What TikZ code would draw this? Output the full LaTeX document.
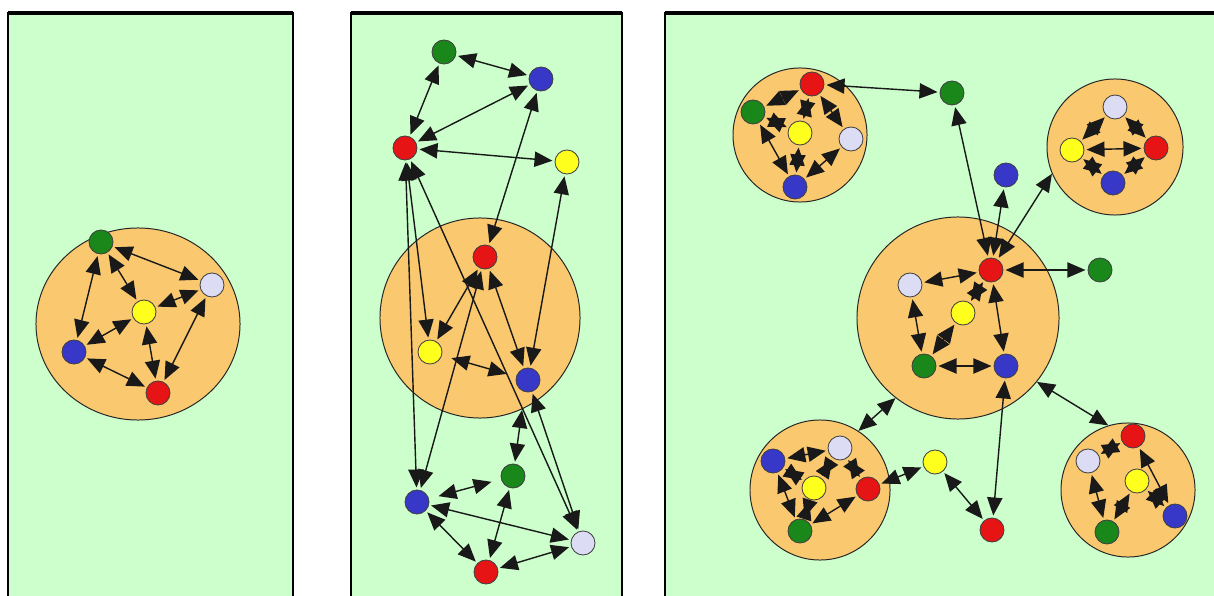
\documentclass[tikz,border=0pt]{standalone}
\usetikzlibrary{arrows.meta,shapes.geometric}
\definecolor{panelbg}{RGB}{204,255,204}
\definecolor{clufill}{RGB}{250,200,110}
\definecolor{cred}{RGB}{230,20,20}
\definecolor{cgreen}{RGB}{25,135,25}
\definecolor{cblue}{RGB}{55,55,200}
\definecolor{cyellow}{RGB}{255,255,30}
\definecolor{clav}{RGB}{220,220,245}
\begin{document}
\begin{tikzpicture}[x=0.025cm,y=-0.025cm,
  nd/.style={circle,draw=black!75,line width=0.6pt,minimum size=0.6cm,inner sep=0pt},
  nr/.style={nd,fill=cred}, ng/.style={nd,fill=cgreen}, nb/.style={nd,fill=cblue},
  ny/.style={nd,fill=cyellow}, nl/.style={nd,fill=clav},
  clu/.style={circle,draw=black!85,line width=0.7pt,fill=clufill,inner sep=0pt},
  dbl/.style={{Triangle[length=0.45cm,width=0.38cm]}-{Triangle[length=0.45cm,width=0.38cm]},line width=1pt,draw=black!90,shorten >=1.5pt,shorten <=1.5pt},
  short/.style={dbl,shorten >=7pt,shorten <=7pt},
  panel/.style={fill=panelbg,draw=black,line width=1.4pt},
  topedge/.style={line width=2.4pt}]
\useasboundingbox (0,0) rectangle (1214,596);
\clip (0,0) rectangle (1214,596);
\fill[white] (0,0) rectangle (1214,596);
% panels
\draw[panel] (8,13) rectangle (293,620);
\draw[topedge] (8,13) -- (293,13);
\draw[panel] (351,13) rectangle (622,620);
\draw[topedge] (351,13) -- (622,13);
\draw[panel] (665,13) rectangle (1240,620);
\draw[topedge] (665,13) -- (1240,13);

% ---------- panel 1 ----------
\node[clu,ellipse,minimum width=5.1cm,minimum height=4.8cm] (P1) at (138,324) {};
\node[ng] (a1) at (101,242) {};
\node[nl] (a2) at (212,285) {};
\node[ny] (a3) at (144,312) {};
\node[nb] (a4) at (74,352) {};
\node[nr] (a5) at (158,393) {};
\draw[dbl] (a1) -- (a2);
\draw[dbl] (a1) -- (a3);
\draw[dbl] (a1) -- (a4);
\draw[dbl] (a3) -- (a2);
\draw[dbl] (a3) -- (a4);
\draw[dbl] (a3) -- (a5);
\draw[dbl] (a4) -- (a5);
\draw[dbl] (a2) -- (a5);

% ---------- panel 2 ----------
\node[clu,minimum size=5cm] (P2) at (480,318) {};
\node[ng] (g1) at (444,52) {};
\node[nb] (b1) at (541,79) {};
\node[nr] (r1) at (405,148) {};
\node[ny] (y1) at (567,162) {};
\node[nr] (r2) at (485,257) {};
\node[ny] (y2) at (430,352) {};
\node[nb] (b2) at (528,380) {};
\node[ng] (g3) at (513,476) {};
\node[nb] (b3) at (417,502) {};
\node[nl] (l3) at (583,543) {};
\node[nr] (r3) at (486,572) {};
\coordinate (j1) at (522,410);
\draw[dbl] (g1) -- (r1);
\draw[dbl] (g1) -- (b1);
\draw[dbl] (b1) -- (r1);
\draw[dbl] (r1) -- (y1);
\draw[dbl] (b1) -- (r2);
\draw[dbl] (y1) -- (b2);
\draw[dbl] (r1) -- (b3);
\draw[dbl] (r1) -- (y2);
\draw[dbl] (r1) -- (l3);
\draw[dbl] (r2) -- (y2);
\draw[dbl] (r2) -- (b3);
\draw[dbl] (r2) -- (b2);
\draw[dbl] (b2) -- (l3);
\draw[short] (y2) -- (b2);
\draw[short] (b3) -- (g3);
\draw[dbl] (b3) -- (l3);
\draw[dbl] (b3) -- (r3);
\draw[dbl] (g3) -- (r3);
\draw[dbl] (l3) -- (r3);
\draw[dbl,shorten <=0pt] (j1) -- (g3);

% ---------- panel 3 ----------
\node[clu,minimum size=3.35cm] (TL) at (800,135) {};
\node[clu,minimum size=3.4cm] (TR) at (1115,147) {};
\node[clu,minimum size=5.05cm] (C) at (958,318) {};
\node[clu,minimum size=3.5cm] (BL) at (820,490) {};
\node[clu,minimum size=3.35cm] (BR) at (1128,490) {};
% top-left cluster
\node[nr] (tlr) at (812,84) {};
\node[ng] (tlg) at (753,112) {};
\node[ny] (tly) at (800,133) {};
\node[nl] (tll) at (851,139) {};
\node[nb] (tlb) at (795,187) {};
% free nodes
\node[ng] (fg) at (952,93) {};
\node[nb] (fb) at (1006,175) {};
\node[ng] (fg2) at (1100,270) {};
\node[ny] (fy) at (935,462) {};
\node[nr] (fr) at (992,530) {};
% top-right cluster
\node[nl] (trl) at (1115,107) {};
\node[ny] (try) at (1072,150) {};
\node[nr] (trr) at (1156,148) {};
\node[nb] (trb) at (1113,183) {};
% central cluster
\node[nr] (cr) at (991,270) {};
\node[nl] (cl) at (910,285) {};
\node[ny] (cy) at (963,313) {};
\node[ng] (cg) at (924,366) {};
\node[nb] (cb) at (1006,366) {};
% bottom-left cluster
\node[nb] (blb) at (773,461) {};
\node[nl] (bll) at (840,448) {};
\node[ny] (bly) at (814,488) {};
\node[nr] (blr) at (868,489) {};
\node[ng] (blg) at (800,531) {};
% bottom-right cluster
\node[nr] (brr) at (1133,436) {};
\node[nl] (brl) at (1088,461) {};
\node[ny] (bry) at (1137,481) {};
\node[nb] (brb) at (1175,516) {};
\node[ng] (brg) at (1107,532) {};

\draw[dbl] (tlr) -- (tlg);
\draw[dbl] (tlr) -- (tly);
\draw[dbl] (tlr) -- (tll);
\draw[dbl] (tly) -- (tlg);
\draw[dbl] (tly) -- (tlb);
\draw[dbl] (tlb) -- (tlg);
\draw[dbl] (tlb) -- (tll);
\draw[dbl] (tlr) -- (fg);

\draw[dbl] (try) -- (trr);
\draw[dbl] (trl) -- (try);
\draw[dbl] (trl) -- (trr);
\draw[dbl] (try) -- (trb);
\draw[dbl] (trr) -- (trb);

\draw[dbl] (cr) -- (cl);
\draw[dbl] (cr) -- (cy);
\draw[dbl] (cl) -- (cg);
\draw[dbl] (cy) -- (cg);
\draw[dbl] (cg) -- (cb);
\draw[dbl] (cr) -- (cb);
\draw[dbl] (cr) -- (fg);
\draw[dbl] (cr) -- (fb);
\draw[dbl,shorten >=0pt] (cr) -- (TR.203);
\draw[dbl] (cr) -- (fg2);
\draw[dbl] (cb) -- (fr);
\draw[dbl,shorten >=0pt,shorten <=0pt] (C.232) -- (BL.57);
\draw[dbl,shorten >=0pt,shorten <=0pt] (C.-39) -- (BR.107);

\draw[dbl] (blb) -- (bll);
\draw[dbl] (blb) -- (blg);
\draw[dbl] (blb) -- (bly);
\draw[dbl] (bll) -- (bly);
\draw[dbl] (bll) -- (blr);
\draw[dbl] (bly) -- (blg);
\draw[dbl] (blg) -- (blr);
\draw[dbl] (blr) -- (fy);
\draw[dbl] (fy) -- (fr);

\draw[dbl] (brr) -- (brl);
\draw[dbl] (brr) -- (brb);
\draw[dbl] (bry) -- (brg);
\draw[dbl] (bry) -- (brb);
\draw[dbl] (brl) -- (brg);
\end{tikzpicture}
\end{document}
